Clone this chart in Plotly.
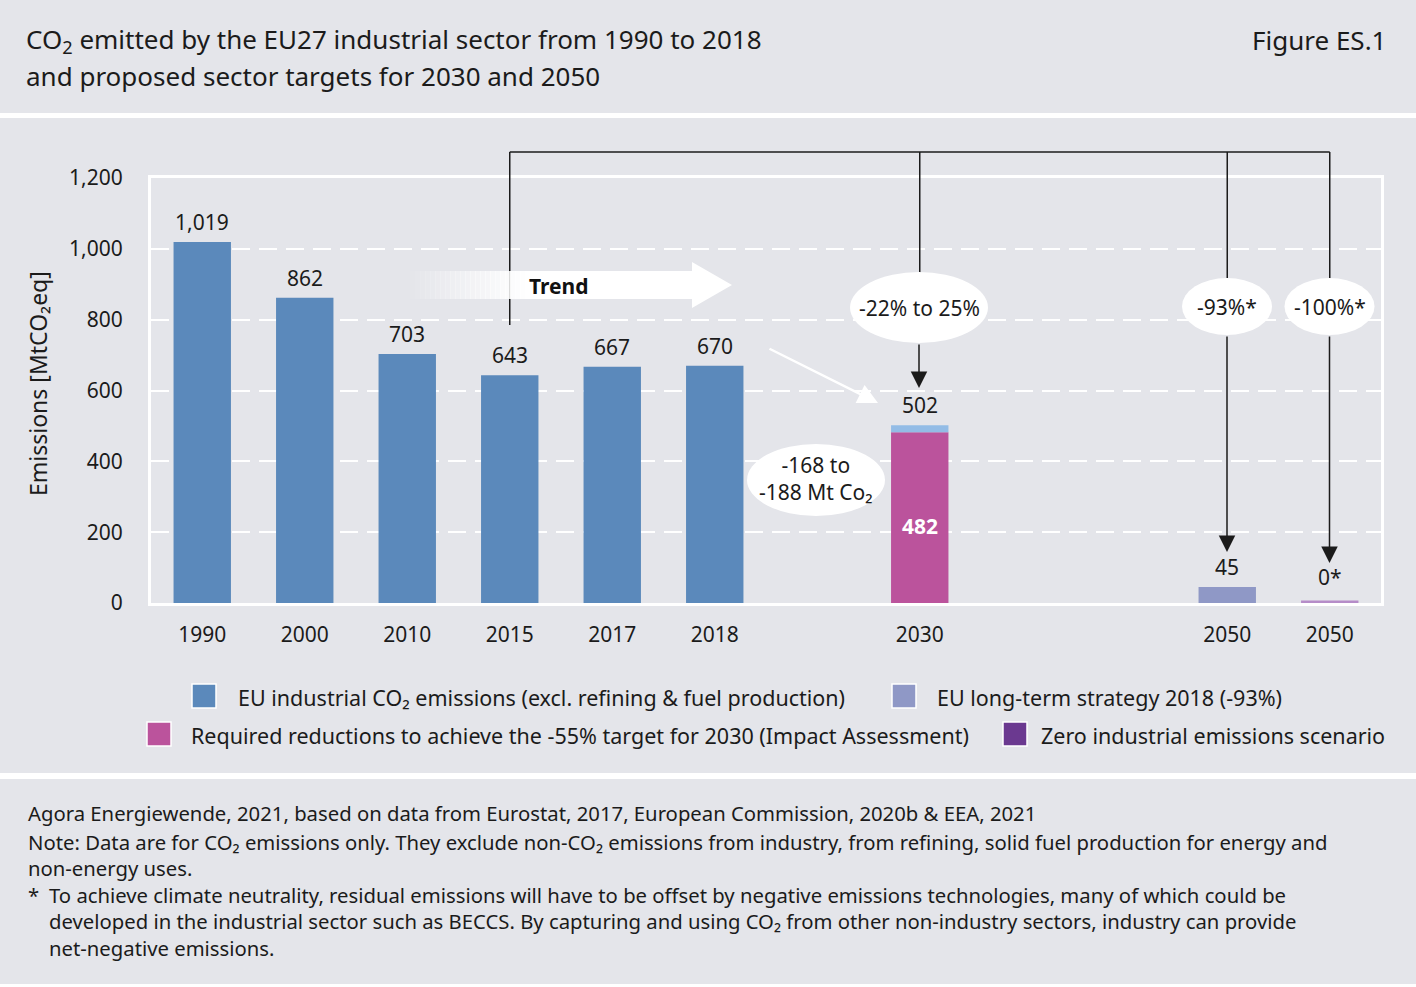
import plotly.graph_objects as go

# data
years = ["1990", "2000", "2010", "2015", "2017", "2018"]
emissions = [1019, 862, 703, 643, 667, 670]
target_2030_low = 482
target_2030_high = 502
lts_2050 = 45
zero_2050 = 0
tick_labels = ["1990", "2000", "2010", "2015", "2017", "2018", "2030", "2050", "2050"]
y_ticks = [0, 200, 400, 600, 800, 1000, 1200]

reduction_labels = ["-22% to 25%", "-93%*", "-100%*"]
mt_label = "-168 to<br>-188 Mt Co\u2082"

legend_names = [
    "EU industrial CO\u2082 emissions (excl. refining & fuel production)",
    "EU long-term strategy 2018 (-93%)",
    "Required reductions to achieve the -55% target for 2030 (Impact Assessment)",
    "Zero industrial emissions scenario",
]

# slot of each tick on the x axis (gaps left for 2030 and 2050)
slots = [0, 1, 2, 3, 4, 5, 7, 10, 11]

BG = "#e4e5ea"
BLUE = "#5b89bb"
MAGENTA = "#bb539c"
LIGHTBLUE = "#93bce6"
LAVENDER = "#8f98c6"
ZERO = "#b58cc8"
PURPLE = "#6b3990"
INK = "#1b1b1b"
FONT = "Noto Sans"
BW = 0.56


# pixel -> paper helpers (plot area 151..1381 x 178..603)
def fx(p):
    return (p - 151) / 1230


def fy(p):
    return (603 - p) / 425


def note(x, y, text, size=21, xanchor="center", yanchor="middle", color=INK, **kw):
    fig.add_annotation(x=fx(x), y=fy(y), text=text, showarrow=False, xref="paper", yref="paper",
                       xanchor=xanchor, yanchor=yanchor,
                       font=dict(family=FONT, size=size, color=color), **kw)


fig = go.Figure()
fig.add_trace(go.Bar(x=slots[:6], y=emissions, width=BW, marker_color=BLUE,
                     marker_line_width=0, showlegend=False, hoverinfo="skip"))
fig.add_trace(go.Bar(x=[slots[6]], y=[target_2030_low], width=BW, marker_color=MAGENTA,
                     marker_line_width=0, showlegend=False, hoverinfo="skip"))
fig.add_trace(go.Bar(x=[slots[6]], y=[target_2030_high - target_2030_low], base=[target_2030_low],
                     width=BW, marker_color=LIGHTBLUE, marker_line_width=0,
                     showlegend=False, hoverinfo="skip"))
fig.add_trace(go.Bar(x=[slots[7]], y=[lts_2050], width=BW, marker_color=LAVENDER,
                     marker_line_width=0, showlegend=False, hoverinfo="skip"))
fig.add_trace(go.Scatter(x=[slots[8] - BW / 2, slots[8] + BW / 2], y=[zero_2050, zero_2050],
                         mode="lines", line=dict(color=ZERO, width=5),
                         showlegend=False, hoverinfo="skip"))

# value labels
label_x = slots[:6] + [slots[6], slots[7], slots[8]]
label_y = emissions + [target_2030_high, lts_2050, zero_2050]
label_t = ["{:,}".format(v) for v in emissions] + [str(target_2030_high), str(lts_2050), str(zero_2050) + "*"]
for i in range(len(label_x)):
    shift = 4 if i < 8 else 10
    fig.add_annotation(x=label_x[i], y=label_y[i], text=label_t[i], showarrow=False,
                       yanchor="bottom", yshift=shift, font=dict(family=FONT, size=21, color=INK))
# 482 inside the magenta bar
fig.add_annotation(x=slots[6], y=target_2030_low * 0.45, text="<b>%d</b>" % target_2030_low,
                   showarrow=False, font=dict(family=FONT, size=21, color="white"))

shapes = []
# separators
for y0, y1 in [(113, 118), (773, 779), (984, 990)]:
    shapes.append(dict(type="rect", xref="paper", yref="paper", x0=fx(0), x1=fx(1416),
                       y0=fy(y1), y1=fy(y0), fillcolor="white", line_width=0, layer="below"))

# connector lines from 2015
line_style = dict(color=INK, width=1.5)
top = fy(152)
shapes.append(dict(type="line", xref="x", yref="paper", x0=slots[3], x1=slots[8], y0=top, y1=top, line=line_style))
shapes.append(dict(type="line", xref="x", yref="paper", x0=slots[3], x1=slots[3], y0=top, y1=fy(325), line=line_style))
for s in [slots[6], slots[7], slots[8]]:
    shapes.append(dict(type="line", xref="x", yref="paper", x0=s, x1=s, y0=top, y1=fy(285), line=line_style))

# ellipses
ellipses = [(919, 307.5, 138, 71), (1227, 306.5, 90, 57), (1329.5, 306.5, 90, 57), (816, 480, 138, 72)]
for cx, cy, w, h in ellipses:
    shapes.append(dict(type="circle", xref="paper", yref="paper", x0=fx(cx - w / 2), x1=fx(cx + w / 2),
                       y0=fy(cy + h / 2), y1=fy(cy - h / 2), fillcolor="white", line_width=0))

# trend arrow: faded tail + solid body + head
n = 24
g0, g1 = 410, 530
for i in range(n):
    a = g0 + (g1 - g0) * i / n
    b = g0 + (g1 - g0) * (i + 1) / n
    shapes.append(dict(type="rect", xref="paper", yref="paper", x0=fx(a), x1=fx(b) + 0.0005,
                       y0=fy(299), y1=fy(271), fillcolor="white", opacity=(i + 1) / n, line_width=0))
shapes.append(dict(type="path", xref="paper", yref="paper",
                   path="M{},{} L{},{} L{},{} L{},{} L{},{} L{},{} L{},{} Z".format(
                       fx(g1), fy(271), fx(692), fy(271), fx(692), fy(262), fx(732), fy(285),
                       fx(692), fy(308), fx(692), fy(299), fx(g1), fy(299)),
                   fillcolor="white", line_width=0))

# legend swatches
swatches = [(192, 684, BLUE), (892, 684, LAVENDER), (147, 722, MAGENTA), (1003, 722, PURPLE)]
for x0, y0, c in swatches:
    shapes.append(dict(type="rect", xref="paper", yref="paper", x0=fx(x0), x1=fx(x0 + 24),
                       y0=fy(y0 + 24), y1=fy(y0), fillcolor=c, line=dict(color="white", width=1.5)))

fig.update_layout(shapes=shapes)

# arrows
arrow_kw = dict(xref="paper", yref="paper", text="", showarrow=True, arrowhead=2,
                arrowsize=2.2, arrowwidth=1.5, arrowcolor=INK, ax=0)
fig.add_annotation(x=fx(919), y=fy(388), ay=-(388 - 343), **arrow_kw)
fig.add_annotation(x=fx(1227), y=fy(552), ay=-(552 - 335), **arrow_kw)
fig.add_annotation(x=fx(1329.5), y=fy(563), ay=-(563 - 335), **arrow_kw)
fig.add_annotation(x=fx(878), y=fy(403), ax=768 - 878, ay=348 - 403, xref="paper", yref="paper",
                   text="", showarrow=True, arrowhead=2, arrowsize=1.6, arrowwidth=2.5, arrowcolor="white")

# ellipse texts
note(919, 308, reduction_labels[0])
note(1227, 307, reduction_labels[1])
note(1329.5, 307, reduction_labels[2])
note(816, 478, mt_label)
note(559, 286, "<b>Trend</b>", color="#111111")

# titles
note(24, 40, "CO<sub>2</sub> emitted by the EU27 industrial sector from 1990 to 2018", size=26, xanchor="left")
note(24, 76, "and proposed sector targets for 2030 and 2050", size=26, xanchor="left")
note(1388, 40, "Figure ES.1", size=26, xanchor="right")

# y axis title
note(38, 384, "Emissions [MtCO\u2082eq]", size=23, textangle=-90)

# legend texts
leg = [(236, 697), (935, 697), (189, 735), (1039, 735)]
for (x0, y0), name in zip(leg, legend_names):
    note(x0, y0, name, size=21.5, xanchor="left")

# footer
note(26, 813, "Agora Energiewende, 2021, based on data from Eurostat, 2017, European Commission, 2020b & EEA, 2021",
     size=20.3, xanchor="left")
note(26, 855, "Note: Data are for CO\u2082 emissions only. They exclude non-CO\u2082 emissions from industry, "
              "from refining, solid fuel production for energy and<br>non-energy uses.",
     size=20.3, xanchor="left", align="left")
note(26, 895, "*", size=20.3, xanchor="left")
note(47, 921, "To achieve climate neutrality, residual emissions will have to be offset by negative emissions "
              "technologies, many of which could be<br>developed in the industrial sector such as BECCS. "
              "By capturing and using CO\u2082 from other non-industry sectors, industry can provide<br>"
              "net-negative emissions.",
     size=20.3, xanchor="left", align="left")

fig.update_layout(
    width=1416, height=987,
    margin=dict(l=151, r=35, t=178, b=384),
    paper_bgcolor=BG, plot_bgcolor=BG,
    barmode="overlay",
    showlegend=False,
    font=dict(family=FONT, color=INK),
    xaxis=dict(range=[-0.5, 11.5], tickvals=slots, ticktext=tick_labels, showgrid=False,
               zeroline=False, showline=True, linecolor="white", linewidth=3, mirror=True,
               ticks="", ticklabelstandoff=11, tickfont=dict(family=FONT, size=21, color=INK),
               layer="below traces", fixedrange=True),
    yaxis=dict(range=[0, 1200], tickvals=y_ticks, tickformat=",", showgrid=True,
               gridcolor="white", gridwidth=2, griddash="18px,9px", zeroline=False,
               showline=True, linecolor="white", linewidth=3, mirror=True, ticks="",
               ticklabelstandoff=21, tickfont=dict(family=FONT, size=21, color=INK),
               fixedrange=True),
)

fig.write_html("out.html", config={"displayModeBar": False},
               post_script="document.body.style.margin='0px';")
